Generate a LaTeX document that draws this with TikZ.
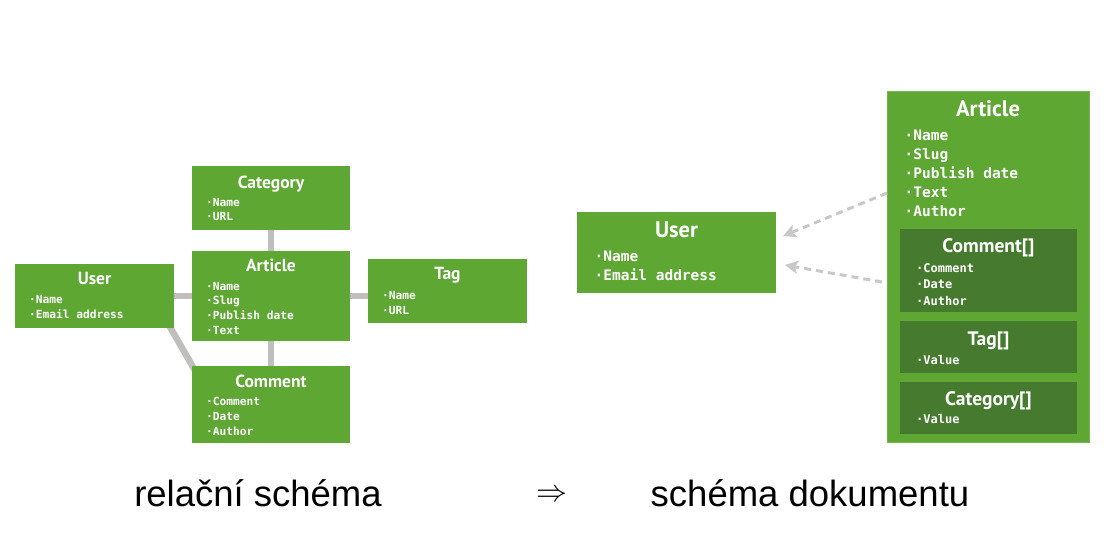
\documentclass[tikz,border=0pt]{standalone}
\usepackage{fontspec}
\usepackage{graphicx}
\setmainfont{Liberation Sans}
\newfontfamily\tfont{PT Sans}
\newfontfamily\ifont{DejaVu Sans Mono}
\usetikzlibrary{arrows.meta,calc,backgrounds}
\definecolor{gr}{HTML}{5EA733}
\definecolor{dg}{HTML}{467A2E}
\definecolor{bord}{HTML}{72B64A}
\definecolor{cn}{HTML}{C1BEBE}
\definecolor{ar}{HTML}{C8C8C8}
\begin{document}
\begin{tikzpicture}[x=1pt,y=-1pt,
  ebox/.style={fill=gr, draw=none, inner sep=0pt, outer sep=0pt, anchor=north west},
  dbox/.style={fill=dg, draw=none, inner sep=0pt, outer sep=0pt, anchor=north west},
  ltitle/.style={text=white, anchor=base, inner sep=0pt, font=\tfont\bfseries\fontsize{17.5}{20}\selectfont},
  rtitle/.style={text=white, anchor=base, inner sep=0pt, font=\tfont\bfseries\fontsize{22.5}{26}\selectfont},
  ntitle/.style={text=white, anchor=base, inner sep=0pt, font=\tfont\bfseries\fontsize{19.5}{23}\selectfont},
  litem/.style={text=white, anchor=base west, inner sep=0pt, font=\ifont\bfseries\fontsize{11.2}{14}\selectfont},
  ritem/.style={text=white, anchor=base west, inner sep=0pt, font=\ifont\bfseries\fontsize{14.5}{17}\selectfont},
  nitem/.style={text=white, anchor=base west, inner sep=0pt, font=\ifont\bfseries\fontsize{12}{14}\selectfont},
  conn/.style={draw=cn, line width=6.5pt},
  dasharrow/.style={draw=ar, line width=3pt, dash pattern=on 7pt off 5pt, -{Stealth[length=13pt,width=13pt,inset=3pt]}},
  caption/.style={anchor=base, inner sep=0pt, font=\fontsize{36.5}{40}\selectfont}
]
\useasboundingbox (0,0) rectangle (1106,542);

% ---------- relational schema ----------
\node[ebox, minimum width=159pt, minimum height=64pt] (usr) at (15,264) {};
\node[ebox, minimum width=158pt, minimum height=64pt] (cat) at (192,166) {};
\node[ebox, minimum width=158pt, minimum height=90pt] (art) at (192,251) {};
\node[ebox, minimum width=159pt, minimum height=64pt] (tag) at (368,259) {};
\node[ebox, minimum width=158pt, minimum height=77pt] (com) at (192,366) {};

\begin{scope}[on background layer]
  \draw[conn] (cat) -- (art);
  \draw[conn] (art) -- (com);
  \draw[conn] (usr) -- (art);
  \draw[conn] (art.east) -- (art.east -| tag.west);
  \draw[conn] ($(usr.south east)+(-11.5,-14)$) -- ($(com.north west)+(8.5,14)$);
\end{scope}

\node[ltitle] (usr-t) at ($(usr.north)+(0,20)$) {User};
\node[ltitle] (cat-t) at ($(cat.north)+(0,22)$) {Category};
\node[ltitle] (art-t) at ($(art.north)+(0,20)$) {Article};
\node[ltitle] (tag-t) at ($(tag.north)+(0,20)$) {Tag};
\node[ltitle] (com-t) at ($(com.north)+(0,21)$) {Comment};

\foreach \t [count=\i] in {Name,Email address}
  \node[litem] (usr-\i) at (29,{303+(\i-1)*15}) {·\t};
\foreach \t [count=\i] in {Name,URL}
  \node[litem] (cat-\i) at (206,{206+(\i-1)*14.5}) {·\t};
\foreach \t [count=\i] in {Name,Slug,Publish date,Text}
  \node[litem] (art-\i) at (206,{290+(\i-1)*14.7}) {·\t};
\foreach \t [count=\i] in {Name,URL}
  \node[litem] (tag-\i) at (382,{299+(\i-1)*15}) {·\t};
\foreach \t [count=\i] in {Comment,Date,Author}
  \node[litem] (com-\i) at (206,{405+(\i-1)*15}) {·\t};

% ---------- document schema ----------
\node[ebox, minimum width=199pt, minimum height=81pt] (usr2) at (577,212) {};
\node[ebox, draw=bord, line width=1pt, minimum width=202pt, minimum height=351pt] (art2) at (887,91) {};
\node[dbox, minimum width=177pt, minimum height=83pt] (com2) at (900,229) {};
\node[dbox, minimum width=177pt, minimum height=52pt] (tag2) at (900,321) {};
\node[dbox, minimum width=177pt, minimum height=52pt] (cat2) at (900,382) {};

\node[rtitle] (usr2-t) at ($(usr2.north)+(0,25)$) {User};
\node[rtitle] (art2-t) at ($(art2.north)+(0,25)$) {Article};
\node[ntitle] (com2-t) at ($(com2.north)+(0,23)$) {Comment[]};
\node[ntitle] (tag2-t) at ($(tag2.north)+(0,24)$) {Tag[]};
\node[ntitle] (cat2-t) at ($(cat2.north)+(0,23)$) {Category[]};

\foreach \t [count=\i] in {Name,Email address}
  \node[ritem] (usr2-\i) at (594.5,{261+(\i-1)*19}) {·\t};
\foreach \t [count=\i] in {Name,Slug,Publish date,Text,Author}
  \node[ritem] (art2-\i) at (904.5,{140+(\i-1)*19}) {·\t};
\foreach \t [count=\i] in {Comment,Date,Author}
  \node[nitem] (com2-\i) at (916,{272+(\i-1)*16.5}) {·\t};
\node[nitem] (tag2-1) at (916,364) {·Value};
\node[nitem] (cat2-1) at (916,423) {·Value};

\draw[dasharrow] ($(art2.north west)+(0,102)$) -- ($(usr2.north east)+(7,24)$);
\draw[dasharrow] ($(art2.north west)+(-5,191)$) -- ($(usr2.north east)+(9,53)$);

% ---------- captions ----------
\node[caption] (cap1) at (258,506) {relační schéma};
\node[inner sep=0pt] (imp) at (552,496) {\scalebox{3.1}{$\Rightarrow$}};
\node[caption] (cap2) at (810,506) {schéma dokumentu};
\end{tikzpicture}
\end{document}
